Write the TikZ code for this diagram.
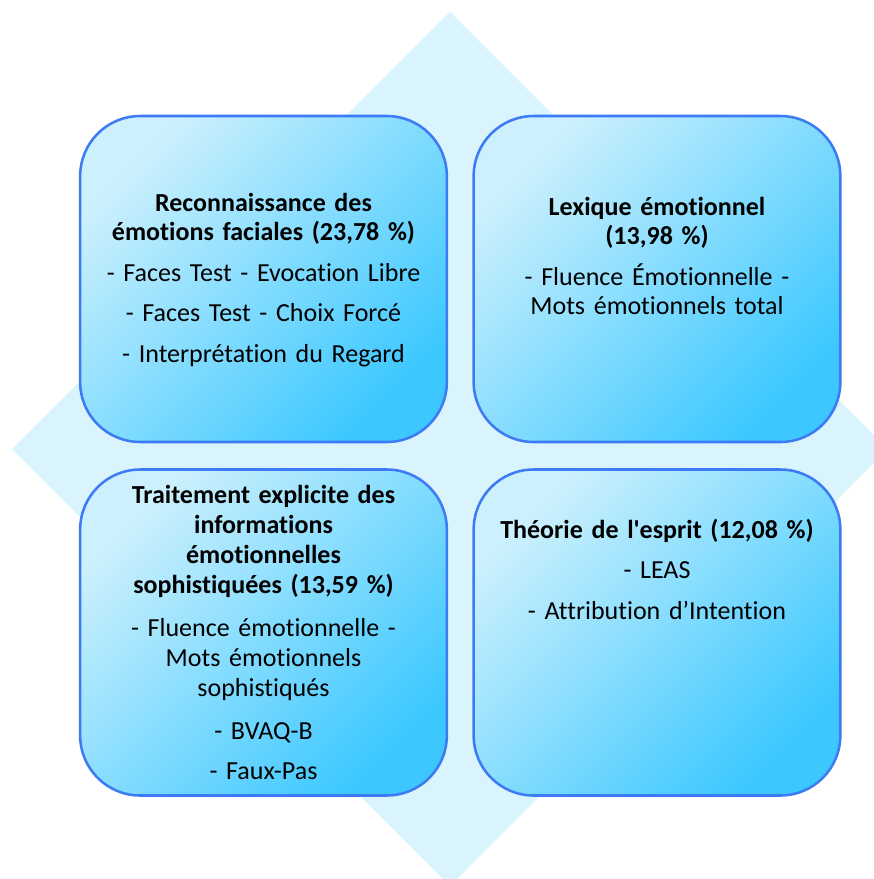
\documentclass[tikz,border=0pt]{standalone}
\usepackage{fontspec}
\setmainfont{Carlito}[Ligatures={NoCommon}]
\definecolor{paleCyan}{RGB}{218,244,254}
\definecolor{cardLight}{RGB}{204,240,253}
\definecolor{cardDeep}{RGB}{60,200,255}
\definecolor{cardEdge}{RGB}{61,123,245}
\tikzset{every picture/.style={line width=0.75pt}}
\tikzset{
  card/.style={draw=cardEdge, line width=1.9pt, rounded corners=45pt,
    top color=cardLight, bottom color=cardDeep, shading angle=45,
    minimum width=275pt, minimum height=244.5pt, inner sep=0pt},
  cardtext/.style={anchor=base, align=center, text width=265pt, inner sep=0pt,
    font=\fontsize{19.5}{22}\selectfont, text=black}
}

\begin{document}
\begin{tikzpicture}[x=0.75pt,y=0.75pt,yscale=-1,xscale=1]
		\useasboundingbox (0,0) rectangle (874,879);
		\clip (0,0) rectangle (874,879);

		%Shape: Diamond [background]
		\fill [paleCyan] (450,12) -- (888,449) -- (450,886) -- (12,449) -- cycle ;

		%Shape: Rounded Rectangles
		\node [card] (recon) at (263.5,279) {};
		\node [card] (lexique) at (657,279) {};
		\node [card] (traitement) at (263.5,632.5) {};
		\node [card] (theorie) at (657,632.5) {};

		%Text boxes
		\node [cardtext] (recontxt) at (263.5,211) {\textbf{Reconnaissance des}\\ \textbf{émotions faciales (23,78 \%)}\\[8.5pt]
			- Faces Test - Evocation Libre\\[8.5pt] - Faces Test - Choix Forcé\\[8.5pt] - Interprétation du Regard};
		\node [cardtext] (lexiquetxt) at (657,215) {\textbf{Lexique émotionnel}\\ \textbf{(13,98 \%)}\\[8.5pt]
			- Fluence Émotionnelle -\\ Mots émotionnels total};
		\node [cardtext, font=\fontsize{19.5}{22.5}\selectfont] (traitementtxt) at (263.5,503) {\textbf{Traitement explicite des}\\ \textbf{informations}\\ \textbf{émotionnelles}\\ \textbf{sophistiquées (13,59 \%)}\\[10pt]
			- Fluence émotionnelle -\\ Mots émotionnels\\ sophistiqués\\[10pt] - BVAQ-B\\[7.5pt] - Faux-Pas};
		\node [cardtext] (theorietxt) at (657,538) {\textbf{Théorie de l\textquotesingle esprit (12,08 \%)}\\[8.5pt]
			- LEAS\\[8.5pt] - Attribution d’Intention};

\end{tikzpicture}
\end{document}
